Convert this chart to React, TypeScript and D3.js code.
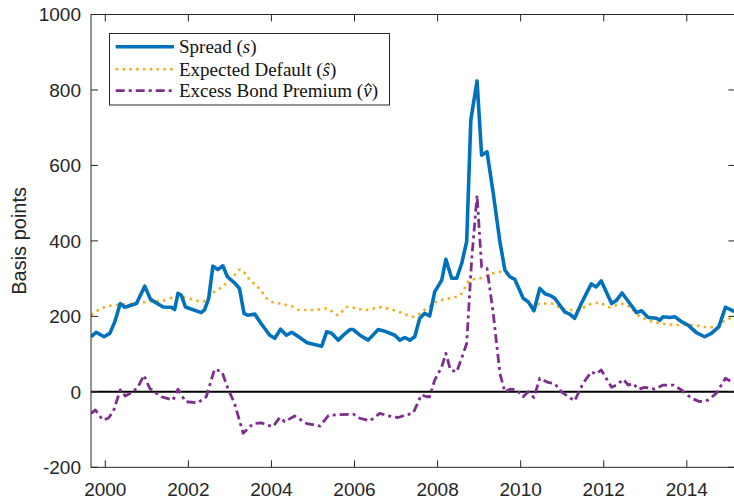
import React, { useLayoutEffect, useRef, useState } from "react";
import * as d3 from "d3";

// Corporate bond spread decomposition, basis points (decimal-year dates)
const spreadDates = [
  1999.66, 1999.78, 1999.97, 2000.11, 2000.23, 2000.36, 2000.47, 2000.75, 2000.95, 2001.09,
  2001.39, 2001.59, 2001.67, 2001.75, 2001.83, 2001.93, 2002.31, 2002.39, 2002.49, 2002.59,
  2002.71, 2002.83, 2002.94, 2003.11, 2003.23, 2003.34, 2003.43, 2003.6, 2003.75, 2003.96,
  2004.08, 2004.22, 2004.36, 2004.49, 2004.68, 2004.86, 2005.09, 2005.21, 2005.33, 2005.45,
  2005.61, 2005.73, 2005.89, 2005.97, 2006.13, 2006.33, 2006.57, 2006.77, 2006.97, 2007.09,
  2007.21, 2007.33, 2007.45, 2007.57, 2007.69, 2007.81, 2007.93, 2008.1, 2008.2, 2008.34,
  2008.46, 2008.58, 2008.7, 2008.8, 2008.95, 2009.06, 2009.19, 2009.34, 2009.5, 2009.62,
  2009.74, 2009.86, 2010.06, 2010.18, 2010.32, 2010.46, 2010.6, 2010.7, 2010.82, 2011.06,
  2011.18, 2011.3, 2011.46, 2011.7, 2011.82, 2011.94, 2012.19, 2012.31, 2012.44, 2012.63,
  2012.79, 2012.91, 2013.07, 2013.27, 2013.35, 2013.43, 2013.59, 2013.71, 2013.87, 2014.03,
  2014.23, 2014.43, 2014.59, 2014.77, 2014.93, 2015.07, 2015.14,
];
const spreadValues = [
  146, 158, 146, 155, 186, 234, 224, 234, 280, 245,
  225, 224, 218, 261, 256, 225, 210, 217, 248, 333,
  324, 334, 305, 289, 274, 208, 203, 206, 181, 150,
  142, 166, 150, 158, 144, 130, 124, 121, 159, 155,
  137, 150, 165, 165, 150, 137, 165, 159, 150, 137,
  144, 137, 146, 195, 208, 201, 265, 296, 351, 301,
  301, 340, 398, 720, 824, 627, 636, 526, 398, 323,
  305, 298, 248, 239, 215, 274, 259, 256, 248, 212,
  206, 195, 234, 286, 278, 294, 234, 243, 262, 234,
  210, 215, 197, 195, 190, 199, 197, 199, 186, 177,
  157, 146, 155, 172, 224, 217, 212,
];

const defaultDates = [
  1999.66, 1999.9, 2000.23, 2000.63, 2001.03, 2001.35, 2001.75, 2001.99, 2002.35, 2002.55,
  2002.87, 2003.11, 2003.26, 2003.43, 2003.72, 2003.96, 2004.24, 2004.48, 2004.68, 2005.01,
  2005.33, 2005.61, 2005.81, 2006.29, 2006.61, 2006.89, 2007.17, 2007.41, 2007.69, 2007.98,
  2008.3, 2008.54, 2008.78, 2009.02, 2009.34, 2009.54, 2009.74, 2009.9, 2010.06, 2010.3,
  2010.5, 2010.74, 2010.98, 2011.18, 2011.38, 2011.62, 2011.9, 2012.14, 2012.42, 2012.63,
  2012.83, 2013.07, 2013.39, 2013.79, 2014.11, 2014.43, 2014.67, 2014.91, 2015.14,
];
const defaultValues = [
  203, 221, 230, 233, 239, 241, 252, 248, 239, 259,
  283, 309, 325, 303, 272, 241, 233, 227, 217, 217,
  221, 203, 225, 217, 224, 218, 208, 199, 217, 239,
  248, 256, 296, 301, 314, 318, 305, 285, 252, 230,
  234, 234, 221, 217, 217, 230, 236, 224, 233, 225,
  203, 190, 181, 177, 177, 172, 171, 188, 199,
];

const premiumDates = [
  1999.66, 1999.76, 1999.94, 2000.07, 2000.19, 2000.36, 2000.48, 2000.67, 2000.79, 2000.93,
  2001.07, 2001.35, 2001.63, 2001.75, 2001.93, 2002.23, 2002.43, 2002.63, 2002.81, 2002.95,
  2003.11, 2003.32, 2003.56, 2003.76, 2003.88, 2004.04, 2004.2, 2004.32, 2004.56, 2004.85,
  2005.17, 2005.37, 2005.57, 2005.97, 2006.13, 2006.37, 2006.61, 2006.81, 2007.05, 2007.25,
  2007.41, 2007.61, 2007.74, 2007.81, 2007.93, 2008.1, 2008.2, 2008.31, 2008.46, 2008.62,
  2008.7, 2008.82, 2008.95, 2009.06, 2009.19, 2009.34, 2009.5, 2009.62, 2009.74, 2009.9,
  2010.06, 2010.18, 2010.32, 2010.46, 2010.66, 2010.82, 2010.98, 2011.3, 2011.5, 2011.7,
  2011.82, 2011.94, 2012.19, 2012.31, 2012.47, 2012.59, 2012.71, 2012.83, 2012.99, 2013.23,
  2013.43, 2013.67, 2013.87, 2014.11, 2014.31, 2014.51, 2014.71, 2014.93, 2015.07, 2015.14,
];
const premiumValues = [
  -57, -48, -75, -70, -53, 5, -11, 0, 14, 44,
  9, -13, -22, 7, -26, -29, -13, 60, 53, 9,
  -30, -110, -84, -82, -88, -92, -68, -79, -64, -84,
  -91, -63, -61, -59, -70, -77, -57, -64, -68, -61,
  -57, -8, -13, -13, 31, 66, 102, 58, 53, 102,
  128, 349, 521, 331, 327, 208, 49, 0, 7, 5,
  -13, 0, -15, 36, 25, 22, 0, -24, 22, 53,
  47, 58, 12, 18, 33, 18, 22, 7, 12, 7,
  18, 18, 5, -17, -26, -22, -4, 36, 27, 24,
];

const yTicks = [-200, 0, 200, 400, 600, 800, 1000];
const xTicks = [2000, 2002, 2004, 2006, 2008, 2010, 2012, 2014];

const W = 734;
const H = 498;
const left = 91;
const right = 735.4;
const top = 14.5;
const bottom = 467.3;

const BLUE = "#0072BD";
const ORANGE = "#EDB120";
const PURPLE = "#7E2F8E";
const AXIS = "#262626";
const SANS = "'Liberation Sans', Arial, Helvetica, sans-serif";
const SERIF = "'Liberation Serif', 'Times New Roman', serif";

const premiumLabel = "Excess Bond Premium (";

export default function App() {
  const x = d3.scaleLinear().domain([1999.656, 2015.17]).range([left, right]);
  const y = d3.scaleLinear().domain([-200, 1000]).range([bottom, top]);

  const toPts = (dates: number[], vals: number[]) => dates.map((d, i) => [d, vals[i]] as [number, number]);
  const line = d3.line<[number, number]>().x((p) => x(p[0])).y((p) => y(p[1]));
  const smooth = d3
    .line<[number, number]>()
    .x((p) => x(p[0]))
    .y((p) => y(p[1]))
    .curve(d3.curveMonotoneX);

  const spreadPath = line(toPts(spreadDates, spreadValues)) || "";
  const defaultPath = smooth(toPts(defaultDates, defaultValues)) || "";
  const premiumPath = line(toPts(premiumDates, premiumValues)) || "";

  const tickLen = 7;
  const legX = 109.5;
  const legY = 33.5;
  const legW = 280;
  const legH = 71.5;
  const rows = [46.7, 69.3, 90.7];
  const legendFont = 19;

  // Circumflex accent over the italic nu, placed from the glyph's measured advance
  const nuRef = useRef<SVGTextElement>(null);
  const [hat, setHat] = useState<{ cx: number } | null>(null);
  useLayoutEffect(() => {
    const el = nuRef.current;
    if (!el) return;
    try {
      const start = el.getStartPositionOfChar(premiumLabel.length);
      const end = el.getEndPositionOfChar(premiumLabel.length);
      setHat({ cx: (start.x + end.x) / 2 + 1 });
    } catch (e) {
      /* leave accent undrawn */
    }
  }, []);

  const baseline = rows[2] + 0.33 * legendFont;
  const hatTop = baseline - 13.2;

  return (
    <svg
      width={W}
      height={H}
      style={{ position: "absolute", left: 0, top: 0, background: "#fff" }}
    >
      <defs>
        <clipPath id="plot">
          <rect x={left} y={top} width={right - left} height={bottom - top} />
        </clipPath>
      </defs>
      <rect x={0} y={0} width={W} height={H} fill="#fff" />

      {/* zero reference */}
      <line x1={left} x2={right} y1={y(0)} y2={y(0)} stroke="#000" strokeWidth={2} />

      <g clipPath="url(#plot)" fill="none" strokeLinejoin="round">
        <path d={defaultPath} stroke={ORANGE} strokeWidth={2.6} strokeDasharray="2.6 4.2" />
        <path d={premiumPath} stroke={PURPLE} strokeWidth={2.8} strokeDasharray="9 4 3 4" />
        <path d={spreadPath} stroke={BLUE} strokeWidth={3.6} />
      </g>

      {/* axes box */}
      <rect x={left} y={top} width={right - left} height={bottom - top} fill="none" stroke={AXIS} strokeWidth={1} />

      {yTicks.map((t) => (
        <g key={"y" + t}>
          <line x1={left} x2={left + tickLen} y1={y(t)} y2={y(t)} stroke={AXIS} />
          <line x1={right} x2={right - tickLen} y1={y(t)} y2={y(t)} stroke={AXIS} />
          <text
            x={left - 10}
            y={y(t)}
            dy="0.36em"
            textAnchor="end"
            fontFamily={SANS}
            fontSize={19}
            fill={AXIS}
          >
            {t}
          </text>
        </g>
      ))}

      {xTicks.map((t) => (
        <g key={"x" + t}>
          <line x1={x(t)} x2={x(t)} y1={bottom} y2={bottom - tickLen} stroke={AXIS} />
          <line x1={x(t)} x2={x(t)} y1={top} y2={top + tickLen} stroke={AXIS} />
          <text x={x(t)} y={495.5} textAnchor="middle" fontFamily={SANS} fontSize={19} fill={AXIS}>
            {t}
          </text>
        </g>
      ))}

      <text
        transform={`translate(26, ${(top + bottom) / 2}) rotate(-90)`}
        textAnchor="middle"
        fontFamily={SANS}
        fontSize={20}
        fill={AXIS}
      >
        Basis points
      </text>

      {/* legend */}
      <rect x={legX} y={legY} width={legW} height={legH} fill="#fff" stroke={AXIS} strokeWidth={1} />
      <line x1={115.7} x2={174} y1={rows[0]} y2={rows[0]} stroke={BLUE} strokeWidth={3.6} />
      <line x1={115.7} x2={174} y1={rows[1]} y2={rows[1]} stroke={ORANGE} strokeWidth={2.6} strokeDasharray="2.6 4.2" />
      <line x1={115.7} x2={174} y1={rows[2]} y2={rows[2]} stroke={PURPLE} strokeWidth={2.8} strokeDasharray="9 4 3 4" />
      <g fontFamily={SERIF} fontSize={legendFont} fill="#111">
        <text x={179} y={rows[0]} dy="0.33em">
          Spread (<tspan fontStyle="italic">s</tspan>)
        </text>
        <text x={179} y={rows[1]} dy="0.33em">
          Expected Default (<tspan fontStyle="italic">ŝ</tspan>)
        </text>
        <text ref={nuRef} x={179} y={rows[2]} dy="0.33em">
          {premiumLabel}
          <tspan fontStyle="italic">ν</tspan>)
        </text>
      </g>
      {hat && (
        <path
          d={`M${hat.cx - 3.2},${hatTop + 3.2} L${hat.cx},${hatTop} L${hat.cx + 3.2},${hatTop + 3.2}`}
          fill="none"
          stroke="#111"
          strokeWidth={1.1}
        />
      )}
    </svg>
  );
}
